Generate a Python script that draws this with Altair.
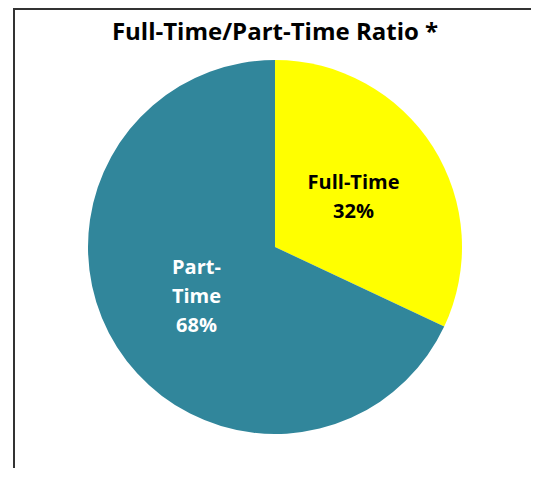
import altair as alt
import pandas as pd

title_text = "Full-Time/Part-Time Ratio *"
categories = ["Full-Time", "Part-Time"]
values = [32, 68]
label_texts = ["Full-Time\n32%", "Part-\nTime\n68%"]
colors = ["#FFFF00", "#31869B"]
label_colors = ["#000000", "#FFFFFF"]

df = pd.DataFrame({
    "category": categories,
    "value": values,
    "label": label_texts,
    "label_color": label_colors,
    "order": list(range(len(categories))),
})

CX, CY, R = 267, 239, 187
FONT = "Open Sans"
LH = 29

base = alt.Chart(df).encode(
    theta=alt.Theta("value:Q", stack=True),
    order=alt.Order("order:Q"),
)

pie = base.mark_arc(outerRadius=R, stroke=None).encode(
    x=alt.value(CX), y=alt.value(CY),
    color=alt.Color("category:N", scale=alt.Scale(domain=categories, range=colors), legend=None),
)

label_layers = []
for cat, txt in zip(categories, label_texts):
    n_lines = txt.count("\n") + 1
    label_layers.append(
        base.mark_text(
            radius=93, font=FONT, fontWeight="bold", fontSize=20, lineBreak="\n",
            lineHeight=LH, align="center", baseline="middle", dy=-(n_lines - 1) * LH / 2,
        ).encode(
            x=alt.value(CX), y=alt.value(CY),
            text="label:N",
            color=alt.Color("label_color:N", scale=None),
            opacity=alt.condition(alt.datum.category == cat, alt.value(1), alt.value(0)),
        )
    )

title = alt.Chart(pd.DataFrame({"t": [title_text]})).mark_text(
    font=FONT, fontWeight="bold", fontSize=24, align="center", baseline="middle", color="#000000",
).encode(x=alt.value(CX), y=alt.value(25), text="t:N")

border_left = alt.Chart(pd.DataFrame({"a": [0]})).mark_rule(color="#333333", strokeWidth=2).encode(
    x=alt.value(6), y=alt.value(0), y2=alt.value(461))
border_top = alt.Chart(pd.DataFrame({"a": [0]})).mark_rule(color="#333333", strokeWidth=2).encode(
    x=alt.value(5), x2=alt.value(523), y=alt.value(1))

chart = alt.layer(pie, *label_layers, title, border_left, border_top).properties(
    width=523, height=460, autosize=alt.AutoSizeParams(type="none"), padding=0,
).configure_view(stroke=None)

chart.save("out.html", embed_options={"renderer": "svg", "actions": False})
